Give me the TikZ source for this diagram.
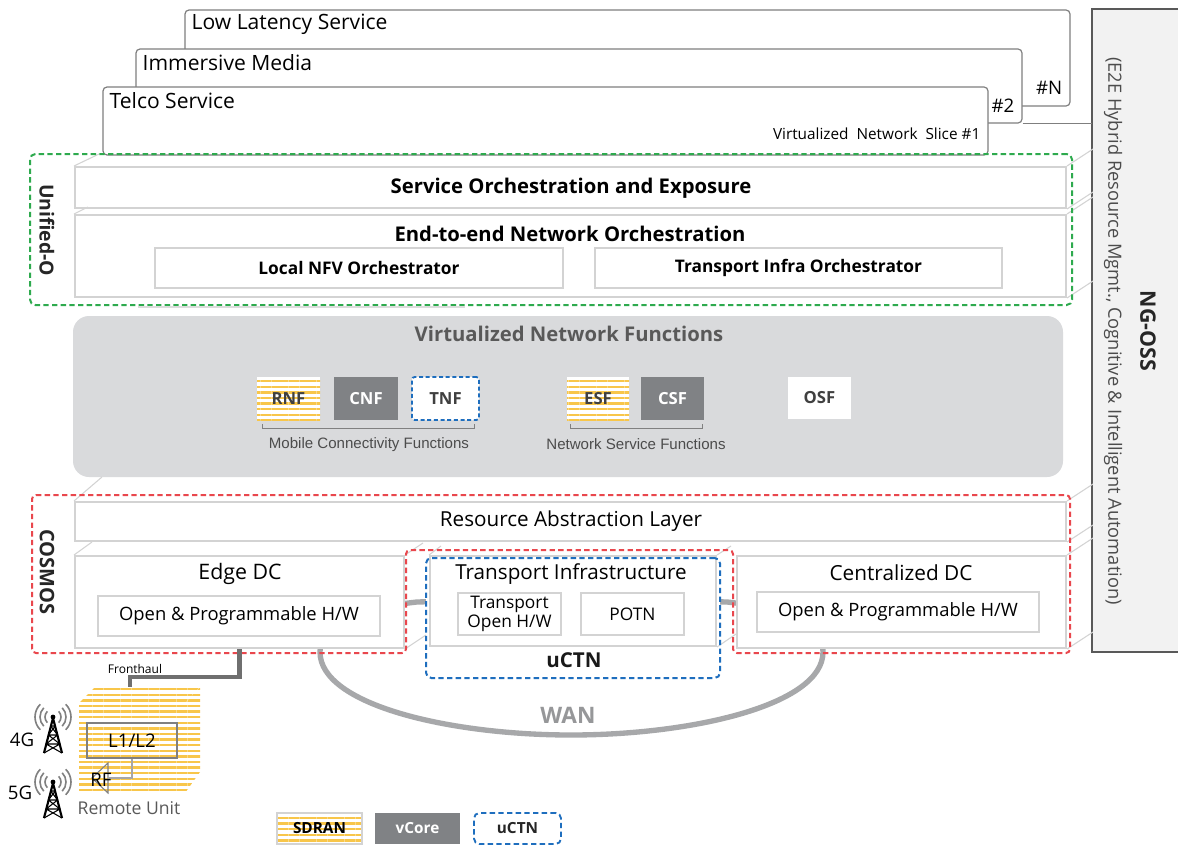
\documentclass[tikz,border=0pt]{standalone}
\usepackage{fontspec}
\setmainfont{Open Sans}
\newfontfamily\arialf{Liberation Sans}
\usetikzlibrary{fit,patterns.meta}

\definecolor{txt}{HTML}{404040}
\definecolor{boxline}{HTML}{D3D3D3}
\definecolor{sliceline}{HTML}{7F7F7F}
\definecolor{vnffill}{HTML}{D9DADC}
\definecolor{darkbox}{HTML}{808285}
\definecolor{stripe}{HTML}{F8C64A}
\definecolor{ugreen}{HTML}{2EAA4E}
\definecolor{cred}{HTML}{E9474D}
\definecolor{ublue}{HTML}{1E6EBE}
\definecolor{wancol}{HTML}{A7A8AA}
\definecolor{fhcol}{HTML}{6F6F6F}
\definecolor{ossfill}{HTML}{F2F2F2}
\definecolor{ossline}{HTML}{595959}

\newcommand\fsz[1]{\fontsize{#1}{#1}\selectfont}

\tikzset{
  slice/.style={draw=sliceline, line width=0.9pt, fill=white, rounded corners=3pt, inner sep=0pt},
  layer/.style={draw=boxline, line width=1.5pt, fill=white, inner sep=0pt},
  inbox/.style={draw=boxline, line width=1.2pt, fill=white, inner sep=0pt},
  persp/.style={draw=boxline, line width=0.8pt},
  greenbox/.style={draw=ugreen, dash pattern=on 4pt off 2.5pt, line width=1.5pt, rounded corners=4pt, inner sep=0pt},
  redline/.style={draw=cred, dash pattern=on 4pt off 2.5pt, line width=1.5pt, rounded corners=3pt},
  bluebox/.style={draw=ublue, dash pattern=on 4pt off 2.5pt, line width=1.5pt, rounded corners=4pt, inner sep=0pt},
  stripes/.style={preaction={fill=white}, pattern={Lines[angle=0, distance=4.2pt, line width=1.8pt]}, pattern color=stripe},
  fnbox/.style={inner sep=0pt},
  darkfn/.style={fill=darkbox, inner sep=0pt},
  lbl/.style={font=\fsz{12.5}\bfseries, text=txt},
  wanline/.style={draw=wancol, line width=4pt},
  fhline/.style={draw=fhcol, line width=3.2pt},
  tower/.pic={
    \fill (0,0) circle (2.4);
    \draw[line width=1.6pt] (0,1) -- (-9,36) (0,1) -- (9,36);
    \draw[line width=0.8pt] (-2.3,9) -- (2.3,9) (-4.6,18) -- (4.6,18) (-6.9,27) -- (6.9,27)
      (-2.3,9) -- (4.6,18) -- (-6.9,27) -- (9,36)
      (2.3,9) -- (-4.6,18) -- (6.9,27) -- (-9,36);
    \foreach \r in {8,13,18} {
      \draw[gray, line width=1.2pt] ([shift={(-45:\r)}]0,0) arc (-45:45:\r);
      \draw[gray, line width=1.2pt] ([shift={(135:\r)}]0,0) arc (135:225:\r);
    }
  }
}

\begin{document}
\begin{tikzpicture}[x=0.75pt, y=-0.75pt, font=\color{txt}]
\useasboundingbox (0,0) rectangle (1178,846);
\fill[white] (0,0) rectangle (1178,846);

% ---------- NG-OSS column ----------
\node[fill=ossfill, inner sep=0pt, fit={(1092,9) (1178,652)}] (oss) {};
\draw[ossline, line width=1.6pt] (oss.north east) -- (oss.north west) -- (oss.south west) -- (oss.south east);
\node[rotate=-90, font=\fsz{16}\bfseries, text=black!85] (ngoss) at (1148,331) {NG-OSS};
\node[rotate=-90, font=\fsz{13.7}, text=black!70] (ngsub) at (1113,331)
  {(E2E Hybrid Resource Mgmt., Cognitive \& Intelligent Automation)};

% ---------- network slices ----------
\node[slice, fit={(185,10) (1070,106)}] (sl3) {};
\node[slice, fit={(136,49) (1022,123)}] (sl2) {};
\draw[sliceline, line width=0.7pt] (sl2.south east) -- (sl2.south east -| oss.west);
\node[slice, fit={(103,87) (988,155)}] (sl1) {};
\node[anchor=west, font=\fsz{15.8}] (t3) at (187,24) {Low Latency Service};
\node[anchor=west, font=\fsz{15.8}] (t2) at (138,63) {Immersive Media};
\node[anchor=west, font=\fsz{15.8}] (t1) at (105,101) {Telco Service};
\node[anchor=east, font=\fsz{14}] (hn) at (1067,88) {\#N};
\node[anchor=east, font=\fsz{14}] (h2) at (1019,106) {\#2};
\node[anchor=east, font=\fsz{11.5}] (h1) at (985,134) {Virtualized~~Network~~Slice \#1};

% ---------- Unified-O layers ----------
\node[layer, fit={(75,167) (1066,208)}] (soe) {};
\node[layer, fit={(75,215) (1066,297)}] (e2e) {};
\draw[persp] (soe.north west) -- ++(25,-12);
\draw[persp] (e2e.north west) -- ++(14,-7);
\draw[persp] (soe.north east) -- ++(26,-17);
\draw[persp] (soe.south east) -- ++(26,-17);
\draw[persp] (e2e.north east) -- ++(26,-17);
\draw[persp] (e2e.south east) -- ++(26,-17);
\node[font=\fsz{15.2}\bfseries] (soet) at (571,188) {Service Orchestration and Exposure};
\node[font=\fsz{15.2}\bfseries] (e2et) at (570,234) {End-to-end Network Orchestration};
\node[inbox, fit={(155,248) (563,288)}] (lnfv) {};
\node[font=\fsz{13}\bfseries] (lnfvt) at (lnfv.center) {Local NFV Orchestrator};
\node[inbox, fit={(595,248) (1002,288)}] (tio) {};
\node[font=\fsz{13}\bfseries] (tiot) at (tio.center) {Transport Infra Orchestrator};
\node[greenbox, fit={(30,154) (1072,305)}] (unio) {};
\node[rotate=-90, font=\fsz{14.5}\bfseries, text=black!85] (uniot) at (47,230) {Unified-O};
\draw[boxline!80, line width=2pt] (138,307) -- (465,307);

% ---------- Virtualized Network Functions ----------
\node[fill=vnffill, rounded corners=12pt, inner sep=0pt, fit={(73,316) (1063,477)}] (vnf) {};
\node[font=\fsz{15.2}\bfseries, text=black!65] (vnft) at (569,334) {Virtualized Network Functions};
\node[fnbox, stripes, fit={(257,377) (320,420)}] (rnf) {};
\node[lbl] at (rnf.center) (rnft) {RNF};
\node[darkfn, fit={(334,377) (398,420)}] (cnf) {};
\node[lbl, text=white] at (cnf.center) (cnft) {CNF};
\node[fnbox, fill=white, draw=ublue, dash pattern=on 3pt off 2pt, line width=1.4pt, rounded corners=2pt, fit={(412,377) (479,420)}] (tnf) {};
\node[lbl] at (tnf.center) (tnft) {TNF};
\draw[gray, line width=0.7pt] (262,424) -- (262,428) -- (474,428) -- (474,424);
\node[font=\arialf\fsz{11.3}, text=black!70] (mcf) at (369,445) {Mobile Connectivity Functions};
\node[fnbox, stripes, fit={(567,377) (629,420)}] (esf) {};
\node[lbl] at (esf.center) (esft) {ESF};
\node[darkfn, fit={(641,377) (704,420)}] (csf) {};
\node[lbl, text=white] at (csf.center) (csft) {CSF};
\draw[gray, line width=0.7pt] (570,424) -- (570,428) -- (702,428) -- (702,424);
\node[font=\arialf\fsz{11.3}, text=black!70] (nsf) at (636,444) {Network Service Functions};
\node[fnbox, fill=white, fit={(788,377) (851,419)}] (osf) {};
\node[lbl] at (osf.center) (osft) {OSF};

% ---------- WAN ring (behind the COSMOS boxes) ----------
\draw[wanline] (570,598) -- (417,602) .. controls (345,610) and (320,628) .. (320,652)
  .. controls (320,705) and (450,735) .. (571,735)
  .. controls (692,735) and (823,705) .. (823,652)
  .. controls (823,628) and (800,610) .. (727,602) -- cycle;
\node[font=\fsz{17}\bfseries, text=wancol!90!black] (want) at (568,715) {WAN};

% ---------- COSMOS ----------
\node[layer, fit={(75,502) (1066,541)}] (ral) {};
\node[font=\fsz{15.5}] (ralt) at (571,521) {Resource Abstraction Layer};
\draw[persp] (ral.north west) -- ++(28,-24);
\draw[persp] (ral.north east) -- ++(26,-17);
\draw[persp] (ral.south east) -- ++(26,-17);

\node[layer, fit={(75,556) (404,648)}] (edge) {};
\draw[persp] (edge.north west) -- ++(18,-13);
\draw[persp] (edge.north east) -- ++(18,-12);
\draw[persp] (edge.south east) -- ++(21,-14);
\node[font=\fsz{16}] (edget) at (240,574) {Edge DC};
\node[inbox, fit={(98,596) (380,636)}] (edgehw) {};
\node[font=\fsz{13.8}] (edgehwt) at (edgehw.center) {Open \& Programmable H/W};

\node[fill=white, inner sep=0pt, fit={(426,558) (720,678)}] (uctnbg) {};
\node[layer, fit={(430,556) (716,646)}] (trans) {};
\draw[persp] (trans.north west) -- ++(12,-9);
\draw[persp] (trans.north east) -- ++(14,-9);
\draw[persp] (trans.south east) -- ++(19,-13);
\node[font=\fsz{15.5}] (transt) at (571,574) {Transport Infrastructure};
\node[inbox, fit={(458,593) (561,635)}] (toh) {};
\node[font=\fontsize{13}{14.5}\selectfont, align=center, inner sep=0pt] (toht) at (toh.center) {Transport\\Open H/W};
\node[inbox, fit={(581,593) (684,635)}] (potn) {};
\node[font=\fsz{13}] (potnt) at (potn.center) {POTN};
\node[bluebox, fit={(426,558) (720,678)}] (uctn) {};
\node[font=\fsz{15.4}\bfseries, text=black!90] (uctnt) at (574,660) {uCTN};

\node[layer, fit={(737,556) (1066,648)}] (cdc) {};
\draw[persp] (cdc.north east) -- ++(26,-17);
\draw[persp] (cdc.south east) -- ++(26,-17);
\node[font=\fsz{15.6}] (cdct) at (901,573) {Centralized DC};
\node[inbox, fit={(757,592) (1039,632)}] (cdchw) {};
\node[font=\fsz{13.8}] (cdchwt) at (cdchw.center) {Open \& Programmable H/W};

\draw[redline] (32,495) -- (1070,495) -- (1070,653) -- (733,653) -- (733,550)
  -- (406,550) -- (406,653) -- (32,653) -- cycle;
\node[rotate=-90, font=\fsz{15}\bfseries, text=black!85] (cosmost) at (47,572) {COSMOS};

% ---------- remote unit ----------
\path[stripes] (79,703) -- (95,687) -- (200,687) -- (185,703) -- cycle;
\path[stripes] (185,703) -- (200,687) -- (200,772) -- (185,793) -- cycle;
\node[stripes, inner sep=0pt, fit={(79,703) (185,793)}] (ru) {};
\coordinate (rutop) at (130,687);
\coordinate (fhbend) at (130,677);
\draw[fhline] (edge.south) |- (fhbend) -- (rutop);
\node[font=\fsz{9}] (fht) at (135,669) {Fronthaul};

\node[draw=gray, line width=0.8pt, inner sep=0pt, fit={(87,723) (177,758)}] (l12) {};
\node[font=\fsz{14}] (l12t) at (l12.center) {L1/L2};
\draw[gray, line width=0.8pt] (108,763) -- (92,778) -- (108,793) -- cycle;
\coordinate (rfport) at (108,778);
\draw[gray!70, line width=0.8pt] (l12.south) |- (rfport);
\node[font=\fsz{14}] (rft) at (101,780) {RF};
\node[font=\fsz{13.2}, text=black!65] (rut) at (129,808) {Remote Unit};

\pic at (53,717) {tower};
\pic at (53,782) {tower};
\node[font=\fsz{14}] (g4) at (22,740) {4G};
\node[font=\fsz{14}] (g5) at (20,793) {5G};

% ---------- legend ----------
\node[stripes, draw=boxline, line width=1pt, inner sep=0pt, fit={(277,813) (362,844)}] (legsd) {};
\node[font=\fsz{11.5}\bfseries] (legsdt) at (legsd.center) {SDRAN};
\node[darkfn, fit={(375,813) (460,844)}] (legvc) {};
\node[font=\fsz{11.5}\bfseries, text=white] (legvct) at (legvc.center) {vCore};
\node[bluebox, line width=1.4pt, fit={(474,813) (561,844)}] (leguc) {};
\node[font=\fsz{11.5}\bfseries, text=black!85] (leguct) at (leguc.center) {uCTN};
\end{tikzpicture}
\end{document}
